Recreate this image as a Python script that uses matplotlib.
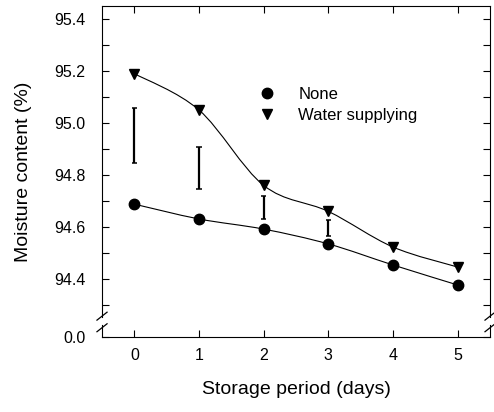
import numpy as np
import matplotlib
matplotlib.use('Agg')
import matplotlib.pyplot as plt
from matplotlib.path import Path
from matplotlib.patches import PathPatch

plt.rcParams['font.family'] = ['Liberation Sans', 'DejaVu Sans']

days = [0, 1, 2, 3, 4, 5]
none_vals = [94.688, 94.631, 94.592, 94.535, 94.454, 94.377]
water_vals = [95.19, 95.05, 94.76, 94.66, 94.523, 94.446]
# LSD bars (low, high)
bar_days = [0, 1, 2, 3]
bar_low = [94.845, 94.746, 94.631, 94.565]
bar_high = [95.058, 94.908, 94.719, 94.627]

y_zero = 94.177   # where the broken axis shows 0.0
y_top = 95.45


def smooth_path(x, y):
    # Catmull-Rom through the points, written as cubic Bezier segments
    x = np.asarray(x, float)
    y = np.asarray(y, float)
    pts = np.column_stack([x, y])
    verts = [pts[0]]
    codes = [Path.MOVETO]
    n = len(pts)
    for i in range(n - 1):
        p0 = pts[i - 1] if i > 0 else pts[i]
        p1 = pts[i]
        p2 = pts[i + 1]
        p3 = pts[i + 2] if i + 2 < n else pts[i + 1]
        c1 = p1 + (p2 - p0) / 6.0
        c2 = p2 - (p3 - p1) / 6.0
        verts += [c1, c2, p2]
        codes += [Path.CURVE4] * 3
    return Path(verts, codes)


fig = plt.figure(figsize=(4.94, 4.12), dpi=100)
ax = fig.add_axes([0.2065, 0.182, 0.7855, 0.8034])

for vals in (none_vals, water_vals):
    ax.add_patch(PathPatch(smooth_path(days, vals), facecolor='none',
                           edgecolor='black', lw=0.8))

ax.plot(days, none_vals, 'o', color='black', ms=7.5, label='None', zorder=3)
ax.plot(days, water_vals, 'v', color='black', ms=7.5, label='Water supplying', zorder=3)

ax.vlines(bar_days, bar_low, bar_high, color='black', lw=1.6)
cap = 0.04
ax.hlines(bar_low, np.array(bar_days) - cap, np.array(bar_days) + cap, color='black', lw=1.1)
ax.hlines(bar_high, np.array(bar_days) - cap, np.array(bar_days) + cap, color='black', lw=1.1)

ax.set_xlim(-0.5, 5.5)
ax.set_ylim(y_zero, y_top)
ax.set_xticks(days)
ax.set_yticks([y_zero, 94.4, 94.6, 94.8, 95.0, 95.2, 95.4])
ax.set_yticklabels(['0.0', '94.4', '94.6', '94.8', '95.0', '95.2', '95.4'])
ax.set_yticks([94.3, 94.5, 94.7, 94.9, 95.1, 95.3], minor=True)
ax.tick_params(which='both', direction='in', top=True, right=True,
               labelsize=11.5, width=0.8, length=5)
ax.tick_params(axis='x', pad=8)
ax.tick_params(axis='y', pad=12)

ax.set_xlabel('Storage period (days)', fontsize=14, labelpad=13)
ax.set_ylabel('Moisture content (%)', fontsize=14, labelpad=16)

# broken y axis
for side in ('left', 'right'):
    ax.spines[side].set_visible(False)
ax.spines['top'].set_linewidth(0.8)
ax.spines['bottom'].set_linewidth(0.8)
gap_lo, gap_hi = 0.036, 0.06
for xs in (0, 1):
    ax.plot([xs, xs], [gap_hi, 1], transform=ax.transAxes, color='black',
            lw=0.8, clip_on=False)
    ax.plot([xs, xs], [0, gap_lo], transform=ax.transAxes, color='black',
            lw=0.8, clip_on=False)
    for yc in (gap_lo - 0.008, gap_hi + 0.003):
        ax.plot([xs - 0.013, xs + 0.013], [yc - 0.012, yc + 0.012],
                transform=ax.transAxes, color='black', lw=0.9, clip_on=False)

ax.legend(loc='upper left', bbox_to_anchor=(0.36, 0.80), frameon=False,
          fontsize=12, handletextpad=1.3, labelspacing=0.35, handlelength=1.2)

fig.savefig('out.png', dpi=100)
